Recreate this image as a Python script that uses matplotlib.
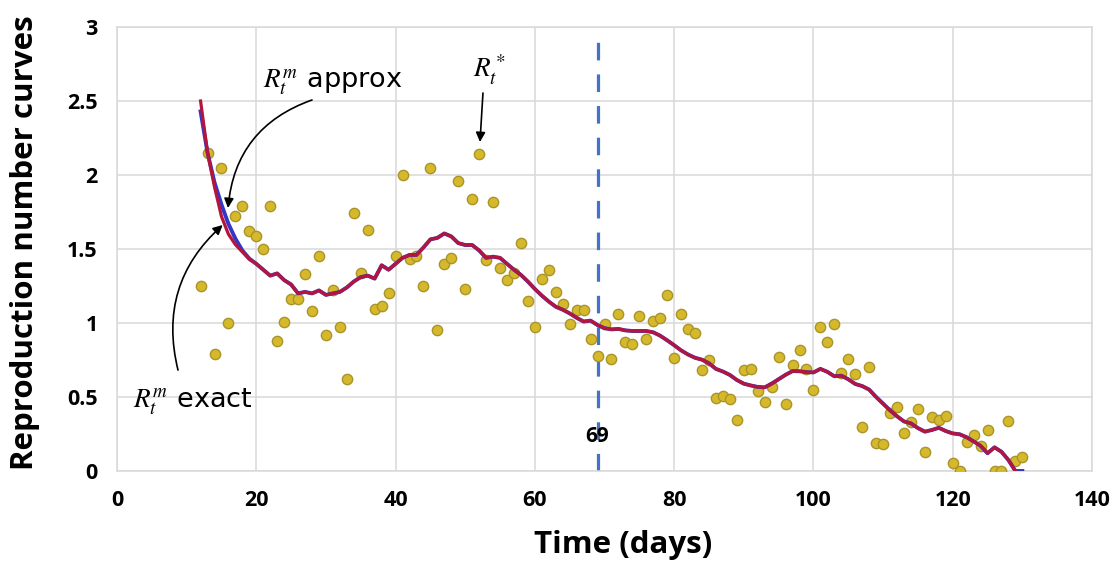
import matplotlib
matplotlib.use("Agg")
import matplotlib.pyplot as plt

# ---------------- data ----------------
scatter_days = list(range(12, 131))
scatter_rt = [
    1.25, 2.15, 0.79, 2.045, 1.00, 1.72, 1.79, 1.62, 1.59, 1.50,   # 12-21
    1.79, 0.88, 1.01, 1.16, 1.16, 1.33, 1.08, 1.455, 0.92, 1.22,   # 22-31
    0.97, 0.62, 1.74, 1.34, 1.63, 1.095, 1.115, 1.20, 1.455, 2.00, # 32-41
    1.43, 1.45, 1.25, 2.045, 0.95, 1.40, 1.44, 1.96, 1.23, 1.84,   # 42-51
    2.14, 1.425, 1.82, 1.37, 1.29, 1.34, 1.54, 1.15, 0.975, 1.30,  # 52-61
    1.36, 1.21, 1.13, 0.99, 1.09, 1.09, 0.89, 0.78, 0.99, 0.755,   # 62-71
    1.06, 0.87, 0.86, 1.05, 0.89, 1.015, 1.035, 1.19, 0.765, 1.06, # 72-81
    0.957, 0.93, 0.68, 0.75, 0.495, 0.51, 0.485, 0.345, 0.68, 0.69, # 82-91
    0.54, 0.464, 0.57, 0.77, 0.45, 0.716, 0.82, 0.69, 0.55, 0.97,  # 92-101
    0.87, 0.99, 0.665, 0.755, 0.655, 0.30, 0.705, 0.19, 0.18, 0.39, # 102-111
    0.43, 0.26, 0.33, 0.42, 0.13, 0.367, 0.345, 0.375, 0.056, 0.0, # 112-121
    0.198, 0.243, 0.17, 0.277, 0.0, 0.0, 0.338, 0.07, 0.095,       # 122-130
]

exact_days = list(range(12, 130))
exact_rt = [
    2.50, 2.15, 1.92, 1.72, 1.60, 1.53, 1.48, 1.43, 1.40, 1.36,    # 12-21
    1.32, 1.335, 1.29, 1.26, 1.20, 1.21, 1.20, 1.22, 1.19, 1.20,   # 22-31
    1.21, 1.24, 1.28, 1.31, 1.32, 1.30, 1.39, 1.36, 1.40, 1.44,    # 32-41
    1.46, 1.46, 1.51, 1.565, 1.575, 1.605, 1.585, 1.54, 1.527, 1.527, # 42-51
    1.49, 1.44, 1.448, 1.44, 1.40, 1.36, 1.325, 1.28, 1.23, 1.185, # 52-61
    1.145, 1.11, 1.09, 1.065, 1.035, 1.01, 1.016, 0.986, 0.965, 0.957, # 62-71
    0.96, 0.95, 0.946, 0.946, 0.946, 0.937, 0.914, 0.883, 0.85, 0.815, # 72-81
    0.787, 0.765, 0.752, 0.728, 0.69, 0.672, 0.649, 0.615, 0.59, 0.578, # 82-91
    0.568, 0.565, 0.59, 0.62, 0.65, 0.675, 0.674, 0.668, 0.666, 0.69, # 92-101
    0.67, 0.64, 0.644, 0.62, 0.588, 0.574, 0.55, 0.50, 0.455, 0.41, # 102-111
    0.37, 0.335, 0.322, 0.29, 0.266, 0.277, 0.292, 0.27, 0.254, 0.248, # 112-121
    0.228, 0.20, 0.17, 0.12, 0.16, 0.13, 0.074, 0.0,               # 122-129
]

approx_days = list(range(12, 131))
approx_rt = [
    2.43, 2.15, 1.95, 1.80, 1.67, 1.57, 1.49, 1.435, 1.40, 1.36,   # 12-21
    1.32, 1.335, 1.29, 1.26, 1.20, 1.21, 1.20, 1.22, 1.19, 1.20,   # 22-31
    1.21, 1.24, 1.28, 1.31, 1.32, 1.30, 1.39, 1.36, 1.40, 1.44,    # 32-41
    1.46, 1.46, 1.51, 1.565, 1.575, 1.605, 1.585, 1.54, 1.527, 1.527, # 42-51
    1.49, 1.44, 1.448, 1.44, 1.40, 1.36, 1.325, 1.28, 1.23, 1.185, # 52-61
    1.145, 1.11, 1.09, 1.065, 1.035, 1.01, 1.016, 0.986, 0.965, 0.957, # 62-71
    0.96, 0.95, 0.946, 0.946, 0.946, 0.937, 0.914, 0.883, 0.85, 0.815, # 72-81
    0.787, 0.765, 0.752, 0.728, 0.69, 0.672, 0.649, 0.615, 0.59, 0.578, # 82-91
    0.568, 0.565, 0.59, 0.62, 0.65, 0.675, 0.674, 0.668, 0.666, 0.69, # 92-101
    0.67, 0.64, 0.644, 0.62, 0.588, 0.574, 0.55, 0.50, 0.455, 0.41, # 102-111
    0.37, 0.335, 0.322, 0.29, 0.266, 0.277, 0.292, 0.27, 0.254, 0.248, # 112-121
    0.228, 0.20, 0.17, 0.12, 0.16, 0.13, 0.074, 0.0, 0.0,          # 122-130
]

split_day = 69
x_ticks = [0, 20, 40, 60, 80, 100, 120, 140]
y_ticks = [0, 0.5, 1, 1.5, 2, 2.5, 3]
y_tick_labels = ["0", "0.5", "1", "1.5", "2", "2.5", "3"]

# ---------------- figure ----------------
plt.rcParams["mathtext.fontset"] = "stix"
BOLD = dict(family="Open Sans", weight="bold")

fig = plt.figure(figsize=(11.18, 5.68), dpi=100)
ax = fig.add_axes([117 / 1118, 1 - 471 / 568, 975 / 1118, 444 / 568])

grid_c = "#D9D9D9"
ax.set_xlim(0, 140)
ax.set_ylim(0, 3)
ax.set_xticks(x_ticks)
ax.set_yticks(y_ticks)
ax.set_yticklabels(y_tick_labels)
ax.grid(True, color=grid_c, linewidth=1.1, zorder=0)
ax.set_axisbelow(True)
for s in ax.spines.values():
    s.set_color(grid_c)
    s.set_linewidth(1.1)
ax.tick_params(length=0, pad=14)
for lab in ax.get_xticklabels() + ax.get_yticklabels():
    lab.set_fontfamily("Open Sans")
    lab.set_fontweight("bold")
    lab.set_fontsize(15.5)

ax.scatter(scatter_days, scatter_rt, s=55, facecolor="#D6B92B",
           edgecolor="#A8942A", linewidth=1.0, zorder=3)
ax.plot(approx_days, approx_rt, color="#3636C4", linewidth=2.8, zorder=4,
        solid_joinstyle="round")
ax.plot(exact_days, exact_rt, color="#B5153C", linewidth=2.3, zorder=5,
        solid_joinstyle="round")

ax.axvline(split_day, color="#4472C4", linewidth=2.3, dashes=(5.5, 4.4),
           ymax=0.985, zorder=2)
ax.text(split_day, 0.23, str(split_day), ha="center", va="center",
        fontsize=15, **BOLD, zorder=6)

ax.set_xlabel("Time (days)", fontsize=22.5, **BOLD)
ax.xaxis.set_label_coords((623 - 117) / 975, (471 - 545) / 444)
ax.xaxis.label.set_va("center")
ax.set_ylabel("Reproduction number curves", fontsize=22.5, **BOLD)
ax.yaxis.set_label_coords((25 - 117) / 975, (471 - 243) / 444)
ax.yaxis.label.set_va("center")

# annotations
txt = dict(fontsize=19.5, family="DejaVu Sans", color="black", zorder=6)
ax.text(21.0, 2.588, r"$R_t^m$ approx", ha="left", va="baseline", **txt)
ax.text(2.3, 0.426, r"$R_t^m$ exact", ha="left", va="baseline", **txt)
ax.text(51.1, 2.655, r"$R_t^*$", ha="left", va="baseline", **txt)

arrow = dict(arrowstyle="-|>", color="black", lw=1.2, mutation_scale=14,
             shrinkA=0, shrinkB=0)
ax.annotate("", xy=(15.94, 1.777), xytext=(28.0, 2.507),
            arrowprops=dict(connectionstyle="arc3,rad=0.32", **arrow))
ax.annotate("", xy=(15.18, 1.662), xytext=(8.76, 0.682),
            arrowprops=dict(connectionstyle="arc3,rad=-0.3", **arrow))
ax.annotate("", xy=(52.12, 2.223), xytext=(52.55, 2.554),
            arrowprops=dict(connectionstyle="arc3,rad=0", **arrow))

fig.savefig("out.png", dpi=100)
